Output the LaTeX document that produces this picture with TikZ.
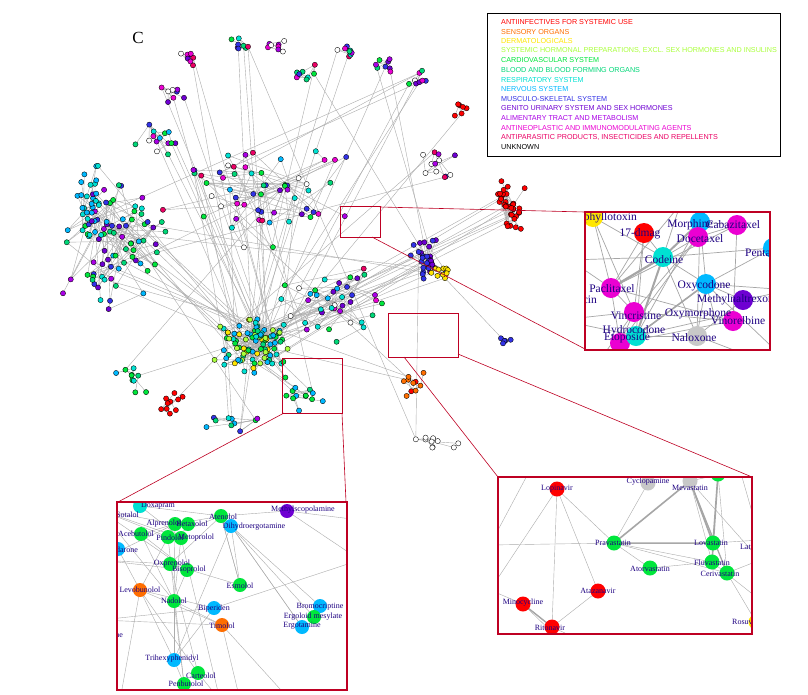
\documentclass[tikz,border=0pt]{standalone}
\usepackage{fontspec}
\newfontfamily\lsans{Liberation Sans}
\setmainfont{Liberation Serif}
\begin{document}
\definecolor{col1}{RGB}{255,0,0}
\definecolor{col2}{RGB}{255,110,0}
\definecolor{col3}{RGB}{255,230,0}
\definecolor{col4}{RGB}{170,255,60}
\definecolor{col5}{RGB}{0,230,60}
\definecolor{col6}{RGB}{0,215,120}
\definecolor{col7}{RGB}{0,225,210}
\definecolor{col8}{RGB}{0,185,255}
\definecolor{col9}{RGB}{50,50,230}
\definecolor{col10}{RGB}{110,0,210}
\definecolor{col11}{RGB}{170,0,230}
\definecolor{col12}{RGB}{235,0,210}
\definecolor{col13}{RGB}{235,0,100}
\definecolor{col14}{RGB}{255,255,255}
\definecolor{col15}{RGB}{200,200,200}
\definecolor{frame}{RGB}{190,0,35}
\definecolor{lab}{RGB}{30,0,130}
\newcount\ptn \ptn=0
\newcommand\mkclus[7]{%
 \xdef\cstart{\the\numexpr\ptn+1\relax}%
 \foreach \q in {1,...,#5}{%
  \pgfmathsetmacro\xx{#1+#3*(rand+rand+rand)/1.8}%
  \pgfmathsetmacro\yy{#2+#4*(rand+rand+rand)/1.8}%
  \ifnum#6<#7 \pgfmathtruncatemacro\kk{random(#6,#7)}\else\def\kk{#6}\fi
  \global\advance\ptn by 1
  \coordinate (p\the\ptn) at (\xx,\yy);
  \expandafter\xdef\csname pc\the\ptn\endcsname{\kk}%
  \expandafter\xdef\csname cs\the\ptn\endcsname{\cstart}%
 }}
\begin{tikzpicture}[x=1pt,y=-1pt,
  edge/.style={draw=gray!65,line width=.4pt},
  iedge/.style={draw=gray!70,line width=.7pt},
  dot/.style={circle,draw=black,line width=.35pt,inner sep=0pt,minimum size=5.2pt,fill=#1},
  bdot/.style={circle,inner sep=0pt,minimum size=#1},
  lbl/.style={text=lab,inner sep=0pt,font=\fontsize{8}{8}\selectfont},
  blbl/.style={text=lab,inner sep=0pt,font=\fontsize{11.5}{11.5}\selectfont},
  leg/.style={anchor=west,inner sep=0pt,font=\lsans\fontsize{7.2}{7.2}\selectfont},
  zoomline/.style={draw=frame,line width=.6pt},
  zoombox/.style={draw=frame,line width=.6pt},
  inset/.style={draw=frame,line width=2pt}]
\useasboundingbox (0,0) rectangle (808,694);
\fill[white] (0,0) rectangle (808,694);
\pgfmathsetseed{4242}
\mkclus{255}{345}{30}{22}{95}{3}{8}
\mkclus{115}{245}{45}{55}{80}{5}{11}
\mkclus{88}{195}{12}{35}{25}{7}{8}
\mkclus{255}{190}{70}{45}{60}{5}{14}
\mkclus{330}{300}{45}{35}{40}{5}{14}
\mkclus{425}{262}{14}{18}{30}{9}{10}
\mkclus{440}{272}{8}{6}{10}{3}{3}
\mkclus{510}{205}{12}{22}{35}{1}{1}
\mkclus{190}{55}{12}{8}{8}{10}{14}
\mkclus{235}{45}{12}{6}{8}{5}{14}
\mkclus{275}{45}{10}{6}{8}{11}{14}
\mkclus{305}{75}{12}{10}{8}{5}{14}
\mkclus{345}{50}{12}{8}{8}{5}{14}
\mkclus{385}{65}{10}{8}{8}{5}{12}
\mkclus{420}{80}{10}{8}{8}{5}{14}
\mkclus{460}{110}{6}{8}{6}{1}{1}
\mkclus{175}{95}{10}{10}{8}{9}{14}
\mkclus{160}{140}{20}{15}{14}{5}{14}
\mkclus{440}{165}{15}{20}{12}{9}{14}
\mkclus{170}{405}{12}{10}{10}{1}{1}
\mkclus{135}{380}{15}{15}{10}{5}{8}
\mkclus{300}{395}{15}{15}{12}{5}{8}
\mkclus{410}{380}{15}{20}{10}{1}{2}
\mkclus{430}{440}{25}{10}{10}{14}{14}
\mkclus{505}{340}{6}{6}{5}{9}{9}
\mkclus{230}{420}{25}{12}{10}{5}{11}
\pgfmathsetseed{99}
\foreach \i in {2,...,\the\ptn}{%
  \edef\s{\csname cs\i\endcsname}%
  \ifnum\i>\s
    \pgfmathtruncatemacro\j{random(\s,\i-1)}%
    \path[edge] (p\i) -- (p\j);
  \fi
  \pgfmathsetmacro\pr{rnd}%
  \ifdim\pr pt<0.15pt
    \pgfmathtruncatemacro\j{random(1,95)}%
    \path[edge] (p\i) -- (p\j);
  \fi
  \ifdim\pr pt>0.93pt
    \pgfmathtruncatemacro\j{random(1,\the\ptn)}%
    \path[edge] (p\i) -- (p\j);
  \fi
}
\foreach \i in {1,...,\the\ptn}{%
  \edef\cc{\csname pc\i\endcsname}%
  \node[dot=col\cc] (d\i) at (p\i) {};
}
\node[font=\fontsize{17}{17}\selectfont,inner sep=0pt] (ctag) at (138,38) {C};
\node[draw=black,line width=.6pt,minimum width=293pt,minimum height=143pt,anchor=north west,inner sep=0pt] (legbox) at (487,13) {};
\foreach \t/\c [count=\n] in {ANTIINFECTIVES FOR SYSTEMIC USE/col1,SENSORY ORGANS/col2,DERMATOLOGICALS/col3,{SYSTEMIC HORMONAL PREPARATIONS, EXCL. SEX HORMONES AND INSULINS}/col4,CARDIOVASCULAR SYSTEM/col5,BLOOD AND BLOOD FORMING ORGANS/col6,RESPIRATORY SYSTEM/col7,NERVOUS SYSTEM/col8,MUSCULO{-}SKELETAL SYSTEM/col9,GENITO URINARY SYSTEM AND SEX HORMONES/col10,ALIMENTARY TRACT AND METABOLISM/col11,ANTINEOPLASTIC AND IMMUNOMODULATING AGENTS/col12,{ANTIPARASITIC PRODUCTS, INSECTICIDES AND REPELLENTS}/col13,UNKNOWN/black}
  \node[leg,text=\c] (leg\n) at (501,{22+9.6*(\n-1)}) {\t};
\coordinate (z1a) at (340,206); \coordinate (z1b) at (380,237);
\draw[zoombox] (z1a) rectangle (z1b);
\coordinate (i1a) at (585,212); \coordinate (i1b) at (770,350);
\draw[zoomline] (380,207) -- (585,212);
\draw[zoomline] (372,237) -- (585,349);
\coordinate (z2a) at (282,358); \coordinate (z2b) at (342,413);
\draw[zoombox] (z2a) rectangle (z2b);
\coordinate (i2a) at (117,502); \coordinate (i2b) at (347,690);
\draw[zoomline] (284,413) -- (118,502);
\draw[zoomline] (342,413) -- (346,502);
\coordinate (z3a) at (388,313); \coordinate (z3b) at (458,357);
\draw[zoombox] (z3a) rectangle (z3b);
\coordinate (i3a) at (498,477); \coordinate (i3b) at (752,634);
\draw[zoomline] (404,357) -- (498,477);
\draw[zoomline] (458,354) -- (752,477);
\fill[white] (i1a) rectangle (i1b);
\begin{scope}
\clip (i1a) rectangle (i1b);
\coordinate (podo) at (593,217); \coordinate (dmag) at (644,233); \coordinate (morph) at (700,222);
\coordinate (caba) at (737,225); \coordinate (doce) at (698,237); \coordinate (pent) at (773,248);
\coordinate (code) at (663,257); \coordinate (pacl) at (611,288); \coordinate (oxyc) at (706,284);
\coordinate (mnal) at (743,300); \coordinate (vinr) at (733,321); \coordinate (vinc) at (634,312);
\coordinate (hydr) at (636,336); \coordinate (etop) at (620,343); \coordinate (nalo) at (697,336);
\coordinate (oxym) at (715,318); \coordinate (o1) at (570,260); \coordinate (o2) at (600,360);
\coordinate (o3) at (680,205); \coordinate (o4) at (790,290); \coordinate (o5) at (760,360); \coordinate (o6) at (560,320); \coordinate (o7) at (770,345);
\foreach \a/\b in {podo/code,podo/pacl,dmag/code,dmag/vinc,dmag/hydr,morph/code,morph/oxyc,morph/hydr,morph/nalo,caba/doce,caba/vinr,caba/pacl,doce/pacl,doce/vinc,doce/etop,code/oxyc,code/hydr,code/nalo,code/pacl,pacl/vinc,pacl/etop,pacl/vinr,oxyc/nalo,oxyc/hydr,oxyc/mnal,oxyc/oxym,mnal/nalo,vinr/vinc,vinr/etop,vinc/etop,hydr/nalo,hydr/oxym,o1/pacl,o1/code,o2/vinc,o3/code,o3/pacl,o4/oxyc,o4/mnal,o5/nalo,o6/vinc,o6/hydr,o7/oxyc,pent/oxyc,pent/code,morph/caba,dmag/pacl,podo/vinc}
  \draw[iedge] (\a) -- (\b);
\draw[draw=gray!70,line width=2.2pt] (code) -- (pacl);
\draw[draw=gray!70,line width=2pt] (morph) -- (code) -- (hydr);
\draw[draw=gray!70,line width=1.6pt] (oxyc) -- (hydr);
\node[bdot=20pt,fill=col3] (npodo) at (podo) {};
\node[bdot=20pt,fill=col1] (ndmag) at (dmag) {};
\node[bdot=20pt,fill=col8] (nmorph) at (morph) {};
\node[bdot=20pt,fill=col12] (ncaba) at (caba) {};
\node[bdot=20pt,fill=col12] (ndoce) at (doce) {};
\node[bdot=20pt,fill=col8] (npent) at (pent) {};
\node[bdot=20pt,fill=col7] (ncode) at (code) {};
\node[bdot=20pt,fill=col12] (npacl) at (pacl) {};
\node[bdot=20pt,fill=col8] (noxyc) at (oxyc) {};
\node[bdot=20pt,fill=col10] (nmnal) at (mnal) {};
\node[bdot=20pt,fill=col12] (nvinr) at (vinr) {};
\node[bdot=20pt,fill=col12] (nvinc) at (vinc) {};
\node[bdot=20pt,fill=col12] (netop) at (etop) {};
\node[bdot=20pt,fill=col7] (nhydr) at (hydr) {};
\node[bdot=20pt,fill=col15] (nnalo) at (nalo) {};
\node[blbl,anchor=east] (tpodo) at (637,218) {Podophyllotoxin};
\node[blbl] (tdmag) at (640,234) {17{-}dmag};
\node[blbl] (tmorph) at (690,225) {Morphine};
\node[blbl] (tcaba) at (733,225) {Cabazitaxel};
\node[blbl] (tdoce) at (700,239) {Docetaxel};
\node[blbl,anchor=west] (tpent) at (745,253) {Pentazocine};
\node[blbl] (tcode) at (664,260) {Codeine};
\node[blbl] (tpacl) at (612,289) {Paclitaxel};
\node[blbl,anchor=east] (tdoxo) at (597,300) {Doxorubicin};
\node[blbl] (toxyc) at (704,286) {Oxycodone};
\node[blbl,anchor=west] (tmnal) at (697,300) {Methylnaltrexone};
\node[blbl] (toxym) at (698,314) {Oxymorphone};
\node[blbl] (tvinr) at (738,321) {Vinorelbine};
\node[blbl] (tvinc) at (636,316) {Vincristine};
\node[blbl] (thydr) at (634,331) {Hydrocodone};
\node[blbl] (tetop) at (627,338) {Etoposide};
\node[blbl] (tnalo) at (694,338) {Naloxone};
\end{scope}
\draw[inset] (i1a) rectangle (i1b);
\fill[white] (i2a) rectangle (i2b);
\begin{scope}
\clip (i2a) rectangle (i2b);
\coordinate (doxa) at (140,506); \coordinate (aten) at (221,516); \coordinate (mesc) at (287,511);
\coordinate (alpr) at (175,524); \coordinate (dihy) at (231,526); \coordinate (aceb) at (141,534);
\coordinate (pind) at (168,537); \coordinate (meto) at (181,538); \coordinate (eron) at (118,549);
\coordinate (oxpr) at (170,564); \coordinate (biso) at (187,570); \coordinate (esmo) at (240,585);
\coordinate (levo) at (140,590); \coordinate (nado) at (174,601); \coordinate (bipe) at (214,608);
\coordinate (timo) at (222,625); \coordinate (brom) at (320,606); \coordinate (ergl) at (314,617);
\coordinate (ergt) at (302,627); \coordinate (trih) at (174,660); \coordinate (cart) at (198,673);
\coordinate (penb) at (184,684);
\coordinate (q1) at (100,510); \coordinate (q2) at (100,620); \coordinate (q3) at (360,520); \coordinate (q4) at (360,560);
\coordinate (q5) at (240,700); \coordinate (q6) at (290,700); \coordinate (q7) at (120,700); \coordinate (q8) at (100,560); \coordinate (q9) at (220,700);
\foreach \a/\b in {q1/alpr,q1/pind,q1/meto,q1/biso,q1/nado,q8/alpr,q8/oxpr,q8/biso,q2/timo,q2/bipe,doxa/meto,aceb/biso,aceb/alpr,aten/pind,aten/oxpr,aten/esmo,dihy/ergt,dihy/ergl,dihy/brom,dihy/esmo,dihy/trih,mesc/q3,mesc/q4,mesc/aten,alpr/nado,meto/nado,pind/levo,oxpr/esmo,biso/nado,nado/trih,nado/penb,levo/timo,levo/trih,levo/cart,levo/q7,bipe/trih,bipe/q4,bipe/levo,timo/q5,timo/q6,timo/nado,trih/penb,cart/q9,esmo/aten,ergt/dihy,meto/q9,pind/penb,oxpr/cart,alpr/aten,doxa/aten,eron/levo,aceb/nado}
  \draw[edge] (\a) -- (\b);
\node[bdot=14pt,fill=col7] (ndoxa) at (doxa) {};
\node[bdot=14pt,fill=col5] (naten) at (aten) {};
\node[bdot=14pt,fill=col10] (nmesc) at (mesc) {};
\node[bdot=14pt,fill=col5] (nalpr) at (alpr) {};
\node[bdot=14pt,fill=col5] (nalpr2) at (188,524) {};
\node[bdot=14pt,fill=col8] (ndihy) at (dihy) {};
\node[bdot=14pt,fill=col5] (naceb) at (aceb) {};
\node[bdot=14pt,fill=col5] (npind) at (pind) {};
\node[bdot=14pt,fill=col5] (nmeto) at (meto) {};
\node[bdot=14pt,fill=col8] (neron) at (eron) {};
\node[bdot=14pt,fill=col5] (noxpr) at (oxpr) {};
\node[bdot=14pt,fill=col5] (nbiso) at (biso) {};
\node[bdot=14pt,fill=col5] (nesmo) at (esmo) {};
\node[bdot=14pt,fill=col2] (nlevo) at (levo) {};
\node[bdot=14pt,fill=col5] (nnado) at (nado) {};
\node[bdot=14pt,fill=col8] (nbipe) at (bipe) {};
\node[bdot=14pt,fill=col2] (ntimo) at (timo) {};
\node[bdot=14pt,fill=col8] (nbrom) at (brom) {};
\node[bdot=14pt,fill=col5] (nergl) at (ergl) {};
\node[bdot=14pt,fill=col8] (nergt) at (ergt) {};
\node[bdot=14pt,fill=col8] (ntrih) at (trih) {};
\node[bdot=14pt,fill=col5] (ncart) at (cart) {};
\node[bdot=14pt,fill=col5] (npenb) at (penb) {};
\node[lbl] (tdoxa) at (158,506) {Doxapram};
\node[lbl,anchor=east] (tsolo) at (139,515) {Sotalol};
\node[lbl] (taten) at (223,517) {Atenolol};
\node[lbl] (tmesc) at (303,510) {Methylscopolamine};
\node[lbl] (talpr) at (164,524) {Alprenolol};
\node[lbl] (tbetx) at (192,524) {Betaxolol};
\node[lbl] (tdihy) at (254,527) {Dihydroergotamine};
\node[lbl] (taceb) at (136,534) {Acebutolol};
\node[lbl] (tpind) at (170,538) {Pindolol};
\node[lbl] (tmeto) at (196,538) {Metoprolol};
\node[lbl,anchor=east] (teron) at (138,550) {Amiodarone};
\node[lbl] (toxpr) at (172,564) {Oxprenolol};
\node[lbl] (tbiso) at (189,570) {Bisoprolol};
\node[lbl] (tesmo) at (240,586) {Esmolol};
\node[lbl] (tlevo) at (140,590) {Levobunolol};
\node[lbl] (tnado) at (174,601) {Nadolol};
\node[lbl] (tbipe) at (214,609) {Biperiden};
\node[lbl] (ttimo) at (222,626) {Timolol};
\node[lbl] (tbrom) at (320,607) {Bromocriptine};
\node[lbl] (tergl) at (313,617) {Ergoloid mesylate};
\node[lbl] (tergt) at (302,626) {Ergotamine};
\node[lbl,anchor=east] (tee) at (123,636) {Pentoxifylline};
\node[lbl] (ttrih) at (172,659) {Trihexyphenidyl};
\node[lbl] (tcart) at (201,676) {Carteolol};
\node[lbl] (tpenb) at (186,684) {Penbutolol};
\end{scope}
\draw[inset] (i2a) rectangle (i2b);
\fill[white] (i3a) rectangle (i3b);
\begin{scope}
\clip (i3a) rectangle (i3b);
\coordinate (lopi) at (557,489); \coordinate (cycl) at (648,483); \coordinate (meva) at (690,481);
\coordinate (topg) at (718,474); \coordinate (prav) at (614,543); \coordinate (lova) at (713,543);
\coordinate (fluv) at (712,562); \coordinate (ceri) at (727,573); \coordinate (ator) at (650,568);
\coordinate (ataz) at (598,591); \coordinate (mino) at (523,604); \coordinate (rito) at (552,627);
\coordinate (rosu) at (756,622);
\coordinate (r1) at (530,470); \coordinate (r2) at (490,545); \coordinate (r3) at (490,590); \coordinate (r4) at (560,640);
\coordinate (r5) at (760,540); \coordinate (r6) at (760,600); \coordinate (r7) at (740,470); \coordinate (r8) at (580,640);\coordinate (r9) at (760,560);
\foreach \a/\b in {r1/r2,r3/mino,mino/rito,mino/r4,rito/r8,lopi/prav,lopi/ataz,lopi/rito,ataz/rito,lopi/r3,prav/r2,prav/lova,prav/ator,prav/fluv,prav/ceri,ator/fluv,meva/lova,meva/fluv,meva/ceri,cycl/prav,lova/fluv,lova/r5,ceri/r9,ceri/rosu,fluv/r6,topg/lova,topg/ceri,meva/r7,r7/r5,meva/r9}
  \draw[edge] (\a) -- (\b);
\draw[draw=gray!70,line width=1.6pt] (prav) -- (meva) -- (lova) -- (topg) -- (fluv);
\draw[draw=gray!70,line width=1.2pt] (prav) -- (lova) (meva) -- (ceri);
\draw[draw=gray!70,line width=1.4pt] (mino) -- (rito) -- (r4);
\node[bdot=15pt,fill=col1] (nlopi) at (lopi) {};
\node[bdot=15pt,fill=col15] (ncycl) at (cycl) {};
\node[bdot=15pt,fill=col15] (nmeva) at (meva) {};
\node[bdot=15pt,fill=col5] (ntopg) at (topg) {};
\node[bdot=15pt,fill=col5] (nprav) at (prav) {};
\node[bdot=15pt,fill=col5] (nlova) at (lova) {};
\node[bdot=15pt,fill=col5] (nfluv) at (fluv) {};
\node[bdot=15pt,fill=col5] (nceri) at (ceri) {};
\node[bdot=15pt,fill=col5] (nator) at (ator) {};
\node[bdot=15pt,fill=col1] (nataz) at (ataz) {};
\node[bdot=15pt,fill=col1] (nmino) at (mino) {};
\node[bdot=15pt,fill=col1] (nrito) at (rito) {};
\node[bdot=15pt,fill=col3] (nrosu) at (rosu) {};
\node[lbl] (tlopi) at (557,489) {Lopinavir};
\node[lbl] (tcycl) at (648,482) {Cyclopamine};
\node[lbl] (tmeva) at (690,488) {Mevastatin};
\node[lbl] (tprav) at (613,543) {Pravastatin};
\node[lbl] (tlova) at (711,543) {Lovastatin};
\node[lbl,anchor=west] (tlata) at (740,548) {Latanoprost};
\node[lbl] (tfluv) at (712,563) {Fluvastatin};
\node[lbl] (tceri) at (720,574) {Cerivastatin};
\node[lbl] (tator) at (650,569) {Atorvastatin};
\node[lbl] (tataz) at (598,591) {Atazanavir};
\node[lbl] (tmino) at (523,603) {Minocycline};
\node[lbl] (trito) at (550,628) {Ritonavir};
\node[lbl,anchor=west] (tpita) at (757,606) {Pitavastatin};
\node[lbl,anchor=west] (trosu) at (732,622) {Rosuvastatin};
\end{scope}
\draw[inset] (i3a) rectangle (i3b);
\end{tikzpicture}
\end{document}
